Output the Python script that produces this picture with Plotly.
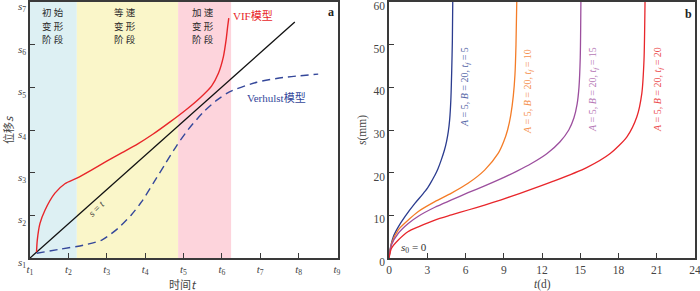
import plotly.graph_objects as go

W, H = 700, 291

# ---------------- Panel a data ----------------
a_ticks = [1, 2, 3, 4, 5, 6, 7, 8, 9]
a_tick_text = ["<i>t</i><sub>%d</sub>" % i for i in a_ticks]
s_ticks = [1, 2, 3, 4, 5, 6, 7]
s_tick_text = ["<i>s</i><sub>%d</sub>" % i for i in s_ticks]

stage_bounds = [1.0, 2.22, 4.86, 6.24]
stage_colors = ["#ddf0f3", "#faf6c9", "#fdd4dc"]
stage_rows = [["初 始", "变 形", "阶 段"], ["等 速", "变 形", "阶 段"], ["加 速", "变 形", "阶 段"]]

line_t = [1.0, 7.9]
line_s = [1.0, 6.53]

vif_t = [1.17, 1.19, 1.26, 1.39, 1.65, 1.91, 2.22, 2.6, 3.0, 3.4, 3.8, 4.2, 4.65,
         5.1, 5.45, 5.73, 5.91, 6.04, 6.11, 6.15, 6.18]
vif_s = [1.14, 1.42, 1.81, 2.12, 2.52, 2.74, 2.87, 3.06, 3.27, 3.47, 3.67, 3.90, 4.19,
         4.50, 4.77, 5.03, 5.33, 5.72, 6.11, 6.42, 6.62]

ver_t = [1.175, 1.74, 2.39, 2.87, 3.30, 3.65, 3.91, 4.21, 4.52, 4.82, 5.13, 5.52, 5.87,
         6.21, 6.91, 7.60, 8.51]
ver_s = [1.11, 1.20, 1.30, 1.42, 1.70, 2.02, 2.32, 2.75, 3.20, 3.63, 4.02, 4.42, 4.70,
         4.90, 5.12, 5.23, 5.31]

# ---------------- Panel b data ----------------
b_xticks = [0, 3, 6, 9, 12, 15, 18, 21, 24]
b_yticks = [0, 10, 20, 30, 40, 50, 60]

tf_values = [5, 10, 15, 20]
b_colors = ["#2b3c8f", "#f47c27", "#9c4f9e", "#e8262b"]
b_label_colors = ["#5868a8", "#f5914f", "#b678b6", "#ec4d4f"]

c5_t = [0, 0.08, 0.34, 0.73, 1.25, 2.03, 2.6, 3.0, 3.3, 3.6, 3.85, 4.1, 4.35, 4.52, 4.65, 4.76, 4.85, 4.92, 4.97, 5.0]
c5_s = [0, 1.9, 5.0, 7.3, 9.7, 12.8, 14.8, 16.3, 17.8, 19.4, 21.0, 23.0, 25.3, 27.4, 29.6, 32.5, 37, 44, 51, 60]

c10_t = [0, 0.2, 0.73, 1.51, 2.3, 3.6, 4.9, 6.2, 7.5, 8.56, 9.0, 9.3, 9.55, 9.75, 9.88, 9.96, 10.02]
c10_s = [0, 3.4, 6.6, 8.9, 10.9, 13.2, 15.2, 17.5, 20.6, 24.5, 27.3, 30.0, 33.5, 38, 43, 50, 60]

c15_t = [0, 0.2, 0.73, 1.51, 2.3, 3.6, 4.9, 6.2, 7.5, 8.8, 10.0, 11.2, 12.4, 13.4, 14.1, 14.5, 14.75, 14.9, 15.0, 15.05]
c15_s = [0, 3.1, 5.8, 8.1, 9.8, 11.9, 13.6, 15.3, 16.9, 18.6, 20.3, 22.2, 24.5, 27.2, 30.0, 32.8, 36, 40, 47, 60]

c20_t = [0, 0.2, 0.73, 1.51, 2.3, 3.6, 4.9, 6.2, 7.5, 8.8, 10.28, 12.9, 15.5, 17.35, 18.66, 19.44, 19.83, 20.0, 20.08]
c20_s = [0, 2.3, 4.2, 6.2, 7.3, 8.9, 10.1, 11.25, 12.4, 13.65, 15.15, 18.0, 21.2, 24.5, 28.4, 33.1, 38.6, 46.4, 60]

curves_t = [c5_t, c10_t, c15_t, c20_t]
curves_s = [c5_s, c10_s, c15_s, c20_s]

SERIF = "Liberation Serif, Times New Roman, serif"
CJK = "Noto Sans CJK SC, sans-serif"
AX = "#3a3a3a"


def px(x):
    return x / W


def py(y):
    return 1 - y / H


fig = go.Figure()

SM = 0.7
# panel a
fig.add_trace(go.Scatter(x=line_t, y=line_s, mode="lines", line=dict(color="#111111", width=1.3),
                         xaxis="x", yaxis="y", showlegend=False, hoverinfo="skip"))
fig.add_trace(go.Scatter(x=vif_t, y=vif_s, mode="lines", line=dict(color="#e8262a", width=1.4, shape="spline", smoothing=SM),
                         xaxis="x", yaxis="y", showlegend=False, hoverinfo="skip"))
fig.add_trace(go.Scatter(x=ver_t, y=ver_s, mode="lines",
                         line=dict(color="#34479a", width=1.4, dash="8px,5px", shape="spline", smoothing=SM),
                         xaxis="x", yaxis="y", showlegend=False, hoverinfo="skip"))

# panel b
for t, s, c in zip(curves_t, curves_s, b_colors):
    fig.add_trace(go.Scatter(x=t, y=s, mode="lines", line=dict(color=c, width=1.3, shape="spline", smoothing=SM),
                             xaxis="x2", yaxis="y2", showlegend=False, hoverinfo="skip"))

shapes = []
for i in range(3):
    shapes.append(dict(type="rect", xref="x", yref="y domain", x0=stage_bounds[i], x1=stage_bounds[i + 1],
                       y0=0, y1=1, fillcolor=stage_colors[i], line=dict(width=0), layer="below"))

ydom = [py(258), py(2)]
axis_common = dict(showgrid=False, zeroline=False, showline=True, mirror=True, linecolor=AX, linewidth=1.5,
                   ticks="inside", ticklen=5, tickwidth=1.2, tickcolor=AX, automargin=False,
                   ticklabeloverflow="allow")

fig.update_layout(
    width=W, height=H, margin=dict(l=0, r=0, t=0, b=0),
    paper_bgcolor="white", plot_bgcolor="white",
    shapes=shapes,
    xaxis=dict(domain=[px(30), px(338)], range=[1, 9.026], tickvals=a_ticks, ticktext=a_tick_text,
               tickfont=dict(family=SERIF, size=11, color="#444"), anchor="y", **axis_common),
    yaxis=dict(domain=ydom, range=[1, 7.0], tickvals=s_ticks, ticktext=s_tick_text, ticklabelshift=4,
               tickfont=dict(family=SERIF, size=11, color="#444"), anchor="x", **axis_common),
    xaxis2=dict(domain=[px(389), px(695)], range=[0, 24], tickvals=b_xticks,
                tickfont=dict(family=SERIF, size=11.5, color="#444"), anchor="y2", **axis_common),
    yaxis2=dict(domain=ydom, range=[0, 60], tickvals=b_yticks, ticklabelshift=4,
                tickfont=dict(family=SERIF, size=11.5, color="#444"), anchor="x2", **axis_common),
)

ann = []


def add_text(x, y, text, size=11, color="#333", family=SERIF, angle=0, xanchor="center"):
    ann.append(dict(x=px(x), y=py(y), xref="paper", yref="paper", text=text, showarrow=False,
                    font=dict(size=size, color=color, family=family), textangle=angle,
                    xanchor=xanchor, yanchor="middle"))


stage_centers = [53, 125, 203]
row_y = [12.5, 26, 39.5]
for cx, rows in zip(stage_centers, stage_rows):
    for ry, row in zip(row_y, rows):
        add_text(cx, ry, row, size=9.5, color="#2a2a2a", family=CJK)

add_text(253, 15, "<span style='font-family:Liberation Serif'>VIF</span>模型", size=11, color="#e8262a", family=CJK)
add_text(276, 97, "<span style='font-family:Liberation Serif'>Verhulst</span>模型", size=11, color="#34479a", family=CJK)
add_text(96, 208, "<i>s</i> = <i>t</i>", size=10, color="#333", angle=-45)
add_text(331, 12, "<b>a</b>", size=12, color="#222")
add_text(8, 130, "位移<i>s</i>", size=11, color="#444", family=CJK, angle=-90)
add_text(183, 284, "时间<i>t</i>", size=11, color="#444", family=CJK)

add_text(688, 14, "<b>b</b>", size=12, color="#222")
add_text(362, 130, "<i>s</i>(mm)", size=11.5, color="#444", angle=-90)
add_text(542, 284, "<i>t</i>(d)", size=11.5, color="#444")
add_text(414, 248, "<i>s</i><sub>0</sub> = 0", size=11, color="#333")

label_pos = [(465, 87), (528, 92), (593, 90), (658, 90)]
for (lx, ly), tf, c in zip(label_pos, tf_values, b_label_colors):
    add_text(lx, ly, "<i>A</i> = 5, <i>B</i> = 20, <i>t</i><sub><i>f</i></sub> = %d" % tf, size=10, color=c, angle=-90)

fig.update_layout(annotations=ann)

fig.write_html("out.html", config={"displayModeBar": False})

# remove the default page margin so the figure sits at the window's top-left corner
with open("out.html", "r", encoding="utf-8") as f:
    html = f.read()
html = html.replace("<head>", "<head><style>html,body{margin:0;padding:0;overflow:hidden;}</style>", 1)
with open("out.html", "w", encoding="utf-8") as f:
    f.write(html)
